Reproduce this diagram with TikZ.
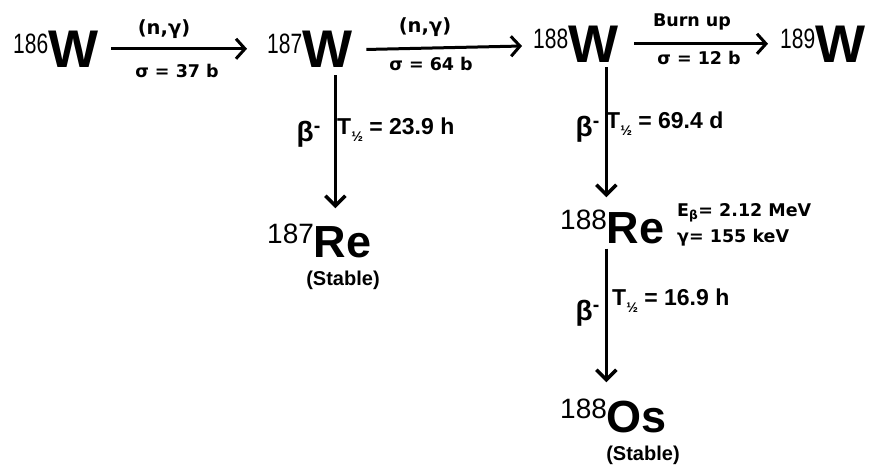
\documentclass[tikz,border=0pt]{standalone}
\usepackage{fontspec}
\usepackage{graphicx}
\setmainfont{Liberation Sans}
\newfontfamily\lblfont{DejaVu Sans}
\usetikzlibrary{arrows.meta}

% mass number raised in front of the element symbol
\newcommand{\nucl}[4]{\raisebox{14pt}{\scalebox{#3}[1]{\fontsize{28}{28}\selectfont #1}}{\fontsize{#4}{#4}\selectfont\bfseries #2}}
\newcommand{\thalf}{T\raisebox{-7pt}{\fontsize{14}{14}\selectfont ½}}

\tikzset{
  nuc/.style={inner sep=0pt, anchor=base west},
  capture/.style={line width=3pt, -{Straight Barb[length=9pt,width=20pt,line width=3pt]}},
  decay/.style={line width=3.5pt, -{Straight Barb[length=10pt,width=20pt,line width=3.5pt]}},
  lbl/.style={font={\lblfont\bfseries\fontsize{17.5}{17.5}\selectfont}, inner sep=0pt},
  big/.style={font={\lblfont\bfseries\fontsize{19.5}{19.5}\selectfont}, inner sep=0pt},
  half/.style={font={\bfseries\fontsize{23}{23}\selectfont}, inner sep=0pt, anchor=west},
  beta/.style={font={\bfseries\fontsize{28}{28}\selectfont}, inner sep=0pt, anchor=east},
  stable/.style={font={\bfseries\fontsize{20}{20}\selectfont}, inner sep=0pt}
}

\begin{document}
\begin{tikzpicture}[x=1pt, y=-1pt]
  \useasboundingbox (0,0) rectangle (871,464);

  % tungsten chain
  \node[nuc] (w186) at (13,67) {\nucl{186}{W}{0.75}{53}};
  \node[nuc] (w187) at (267,67) {\nucl{187}{W}{0.75}{53}};
  \node[nuc] (w188) at (533,62) {\nucl{188}{W}{0.75}{53}};
  \node[nuc] (w189) at (780,62) {\nucl{189}{W}{0.75}{53}};

  % daughters
  \node[nuc] (re187) at (267,257) {\nucl{187}{Re}{1}{45}};
  \node[nuc] (re188) at (560,243) {\nucl{188}{Re}{1}{45}};
  \node[nuc] (os188) at (560,432) {\nucl{188}{Os}{1}{45}};
  \node[stable] (st187) at (343,280) {(Stable)};
  \node[stable] (st188) at (643,455) {(Stable)};

  % neutron capture
  \draw[capture, shorten <=13pt, shorten >=20pt] (w186.east) -- (w187.west);
  \draw[capture, shorten <=14pt, shorten >=11pt] ([yshift=-1pt]w187.east) -- ([yshift=-2pt]w188.west);
  \draw[capture, shorten <=16pt, shorten >=12pt] (w188.east) -- (w189.west);
  \node[big] (ng1) at (164,29) {(n,γ)};
  \node[lbl] (sg1) at (177,71) {σ = 37 b};
  \node[big] (ng2) at (425,27) {(n,γ)};
  \node[lbl] (sg2) at (431,64) {σ = 64 b};
  \node[lbl] (burn) at (692,22) {Burn up};
  \node[lbl] (sg3) at (699,58) {σ = 12 b};

  % beta decay
  \draw[decay, shorten <=8pt, shorten >=15pt] ([xshift=16pt]re187.north |- w187.south) -- ([xshift=16pt]re187.north);
  \draw[decay, shorten <=5pt, shorten >=12pt] ([xshift=-6pt]re188.north |- w188.south) -- ([xshift=-6pt]re188.north);
  \draw[decay, shorten <=5pt, shorten >=16pt] ([xshift=-6pt]re188.south) -- ([xshift=-6pt]re188.south |- os188.north);

  \node[beta] (b1) at (321,134) {β\textsuperscript{-}};
  \node[half] (t1) at (337,130) {\thalf{} = 23.9 h};
  \node[beta] (b2) at (600,129) {β\textsuperscript{-}};
  \node[half] (t2) at (606,124) {\thalf{} = 69.4 d};
  \node[beta] (b3) at (600,313) {β\textsuperscript{-}};
  \node[half] (t3) at (612,301) {\thalf{} = 16.9 h};

  \node[lbl, anchor=west] (eb) at (677,213) {E\textsubscript{β}= 2.12 MeV};
  \node[lbl, anchor=west] (eg) at (677,238) {γ= 155 keV};
\end{tikzpicture}
\end{document}
